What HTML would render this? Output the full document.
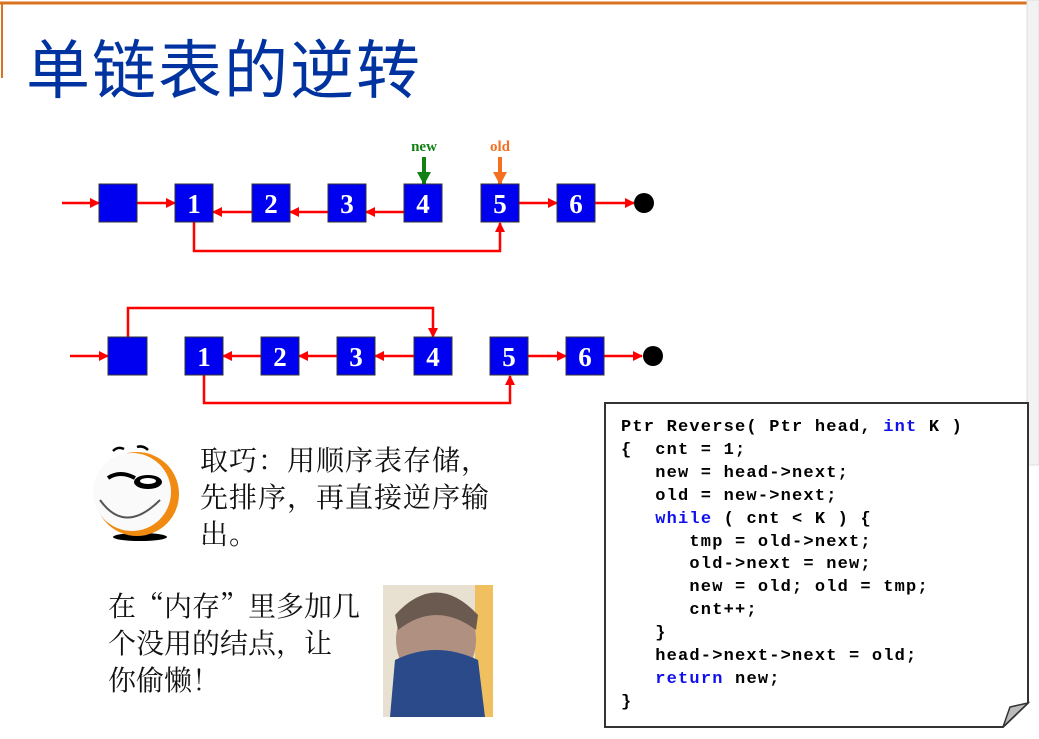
<!DOCTYPE html>
<html><head><meta charset="utf-8"><style>
html,body{margin:0;padding:0;background:#fff;}
body{width:1039px;height:739px;position:relative;overflow:hidden;}
.t{position:absolute;font-family:"Noto Serif CJK SC","Noto Sans CJK SC",serif;white-space:nowrap;}
.code{position:absolute;left:621px;top:417px;font-family:"Liberation Mono",monospace;font-weight:bold;font-size:17px;letter-spacing:1.2px;line-height:22.9px;white-space:pre;color:#000;}
.k{color:#1010ee;}
</style></head><body>
<svg width="1039" height="739" style="position:absolute;left:0;top:0">
<defs>
<marker id="a" markerWidth="10" markerHeight="10" refX="9" refY="5" orient="auto" markerUnits="userSpaceOnUse"><path d="M0,0 L10,5 L0,10 z" fill="#f00"/></marker>
<marker id="g" markerWidth="14" markerHeight="14" refX="12" refY="7" orient="auto" markerUnits="userSpaceOnUse"><path d="M0,0 L13,7 L0,14 z" fill="#128012"/></marker>
<marker id="o" markerWidth="14" markerHeight="14" refX="12" refY="7" orient="auto" markerUnits="userSpaceOnUse"><path d="M0,0 L13,7 L0,14 z" fill="#f37021"/></marker>
</defs>
<line x1="0" y1="3" x2="1027" y2="3" stroke="#d9731f" stroke-width="3"/>
<line x1="2" y1="3" x2="2" y2="78" stroke="#d9731f" stroke-width="2"/>
<rect x="1027" y="0" width="12" height="465" fill="#f2f2f2" stroke="#ddd"/>
<g stroke="#f00" stroke-width="2.5" fill="none">
<line x1="62" y1="203" x2="99" y2="203" marker-end="url(#a)"/>
<line x1="137" y1="203" x2="175" y2="203" marker-end="url(#a)"/>
<line x1="252" y1="212" x2="213" y2="212" marker-end="url(#a)"/>
<line x1="328" y1="212" x2="290" y2="212" marker-end="url(#a)"/>
<line x1="404" y1="212" x2="366" y2="212" marker-end="url(#a)"/>
<line x1="519" y1="203" x2="557" y2="203" marker-end="url(#a)"/>
<line x1="595" y1="203" x2="634" y2="203" marker-end="url(#a)"/>
<path d="M194,222 V251 H500 V223" marker-end="url(#a)"/>
<line x1="70" y1="356" x2="108" y2="356" marker-end="url(#a)"/>
<line x1="261" y1="356" x2="223" y2="356" marker-end="url(#a)"/>
<line x1="337" y1="356" x2="299" y2="356" marker-end="url(#a)"/>
<line x1="414" y1="356" x2="375" y2="356" marker-end="url(#a)"/>
<line x1="528" y1="356" x2="566" y2="356" marker-end="url(#a)"/>
<line x1="604" y1="356" x2="642" y2="356" marker-end="url(#a)"/>
<path d="M128,337 V308 H433 V337" marker-end="url(#a)"/>
<path d="M204,375 V403 H510 V376" marker-end="url(#a)"/>
</g>
<line x1="424" y1="157" x2="424" y2="184" stroke="#128012" stroke-width="4" marker-end="url(#g)"/>
<line x1="500" y1="157" x2="500" y2="184" stroke="#f37021" stroke-width="4" marker-end="url(#o)"/>
<text x="424" y="151" text-anchor="middle" font-family="Liberation Serif" font-weight="bold" font-size="15" fill="#128012">new</text>
<text x="500" y="151" text-anchor="middle" font-family="Liberation Serif" font-weight="bold" font-size="15" fill="#f37021">old</text>
<g fill="#0000f0" stroke="#333" stroke-width="1">
<rect x="99" y="184" width="38" height="38"/><rect x="175" y="184" width="38" height="38"/><rect x="252" y="184" width="38" height="38"/><rect x="328" y="184" width="38" height="38"/><rect x="404" y="184" width="38" height="38"/><rect x="481" y="184" width="38" height="38"/><rect x="557" y="184" width="38" height="38"/>
<rect x="108" y="337" width="39" height="38"/><rect x="185" y="337" width="38" height="38"/><rect x="261" y="337" width="38" height="38"/><rect x="337" y="337" width="38" height="38"/><rect x="414" y="337" width="38" height="38"/><rect x="490" y="337" width="38" height="38"/><rect x="566" y="337" width="38" height="38"/>
</g>
<g fill="#fff" font-family="Liberation Serif" font-weight="bold" font-size="27" text-anchor="middle">
<text x="194" y="213">1</text><text x="271" y="213">2</text><text x="347" y="213">3</text><text x="423" y="213">4</text><text x="500" y="213">5</text><text x="576" y="213">6</text>
<text x="204" y="366">1</text><text x="280" y="366">2</text><text x="356" y="366">3</text><text x="433" y="366">4</text><text x="509" y="366">5</text><text x="585" y="366">6</text>
</g>
<circle cx="644" cy="203" r="10" fill="#000"/>
<circle cx="653" cy="356" r="10" fill="#000"/>
<ellipse cx="140" cy="537" rx="27" ry="4" fill="#000"/>
<circle cx="137" cy="494" r="42" fill="#f08a10"/>
<circle cx="132" cy="492" r="39" fill="#fafafa"/>
<path d="M113,451 Q118,446 124,449" stroke="#000" stroke-width="2.5" fill="none"/>
<path d="M137,447 Q143,445 148,450" stroke="#000" stroke-width="2.5" fill="none"/>
<path d="M108,478 Q120,470 135,478" stroke="#000" stroke-width="4" fill="none"/>
<ellipse cx="148" cy="482" rx="14" ry="7" fill="#000"/><ellipse cx="148" cy="481" rx="8" ry="3" fill="#fff"/>
<path d="M100,500 Q125,535 160,500" stroke="#555" stroke-width="2" fill="none"/>
<rect x="383" y="585" width="110" height="132" fill="#e8e0d0"/>
<rect x="475" y="585" width="18" height="132" fill="#f0c060"/>
<ellipse cx="436" cy="640" rx="40" ry="45" fill="#b09080"/>
<path d="M395,615 Q436,570 478,615 L476,630 Q436,600 398,630 z" fill="#6a5a50"/>
<path d="M390,717 L395,660 Q436,640 478,660 L485,717 z" fill="#2a4a8a"/>
<path d="M605,403 H1028 V703 L1003,727 H605 z" fill="#fff" stroke="#333" stroke-width="2"/>
<path d="M1003,727 L1010,707 L1028,703 z" fill="#bbb" stroke="#333" stroke-width="1.5"/>
</svg>
<div class="t" style="left:26px;top:20px;font-size:64px;color:#0033a0;font-family:'Noto Sans CJK SC',sans-serif;letter-spacing:2px;">单链表的逆转</div>
<div class="t" style="left:200px;top:441px;font-size:28px;line-height:37px;letter-spacing:1px;color:#111;">取巧：用顺序表存储，<br>先排序，再直接逆序输<br>出。</div>
<div class="t" style="left:108px;top:587px;font-size:28px;line-height:37px;color:#111;">在“内存”里多加几<br>个没用的结点，让<br>你偷懒！</div>
<div class="code">Ptr Reverse( Ptr head, <span class="k">int</span> K )
{  cnt = 1;
   new = head-&gt;next;
   old = new-&gt;next;
   <span class="k">while</span> ( cnt &lt; K ) {
      tmp = old-&gt;next;
      old-&gt;next = new;
      new = old; old = tmp;
      cnt++;
   }
   head-&gt;next-&gt;next = old;
   <span class="k">return</span> new;
}</div>
</body></html>
